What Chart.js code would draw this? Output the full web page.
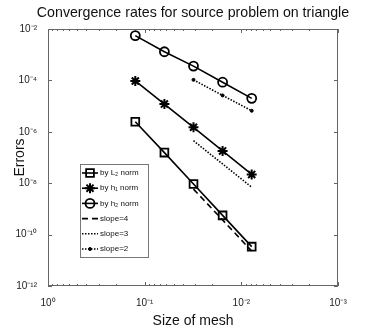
<!DOCTYPE html>
<html>
<head>
<meta charset="utf-8">
<script src="https://cdn.jsdelivr.net/npm/chart.js@4.4.0/dist/chart.umd.min.js"></script>
<style>
  html, body { margin: 0; padding: 0; background: #fff; }
</style>
</head>
<body>
<canvas id="convChart" width="374" height="333"></canvas>
<script>
const meshSizes = [1/8, 1/16, 1/32, 1/64, 1/128];
const errL2 = [2.45e-6, 1.55e-7, 9.3e-9, 5.6e-10, 3.4e-11];
const errH1 = [9.5e-5, 1.2e-5, 1.5e-6, 1.8e-7, 2.2e-8];
const errH2 = [5.5e-3, 1.3e-3, 3.6e-4, 8.5e-5, 2.0e-5];

// reference slope lines
const slopeMesh = [1/32, 1/64, 1/128];
const slope4 = [5.9e-9, 3.7e-10, 2.3e-11];
const slope3 = [4.5e-7, 5.6e-8, 7.0e-9];
const slope2 = [1.05e-4, 2.6e-5, 6.6e-6];

const chartTitle = 'Convergence rates for source problem on triangle';
const seriesLabels = ['by L\u2082 norm', 'by h\u2081 norm', 'by h\u2082 norm', 'slope=4', 'slope=3', 'slope=2'];
const xTickValues = [1, 1e-1, 1e-2, 1e-3];
const yTickValues = [1e-2, 1e-4, 1e-6, 1e-8, 1e-10, 1e-12];

const SUP = { '-': '\u207B', '0': '\u2070', '1': '\u00B9', '2': '\u00B2', '3': '\u00B3', '4': '\u2074',
              '5': '\u2075', '6': '\u2076', '7': '\u2077', '8': '\u2078', '9': '\u2079' };
const pow10Label = v => '10' + String(Math.round(Math.log10(v))).split('').map(c => SUP[c]).join('');

const pts = (xs, ys) => xs.map((x, i) => ({ x, y: ys[i] }));

const FONT = "'Liberation Sans', Arial, sans-serif";

// MATLAB-like box with inward ticks on all four sides, title centred over the axes
const boxTicks = {
  id: 'boxTicks',
  beforeDatasetsDraw(chart) {
    const { ctx, chartArea: a, scales: { x, y } } = chart;
    ctx.save();
    ctx.strokeStyle = '#666';
    ctx.lineWidth = 1;
    ctx.strokeRect(a.left + 0.5, a.top + 0.5, a.right - a.left - 1, a.bottom - a.top - 1);
    ctx.beginPath();
    // x major + minor ticks
    for (let e = 0; e > -3; e--) {
      for (let m = 1; m <= 9; m++) {
        const px = Math.round(x.getPixelForValue(m * Math.pow(10, e - 1))) + 0.5;
        const len = m === 1 ? 4 : 2;
        ctx.moveTo(px, a.bottom); ctx.lineTo(px, a.bottom - len);
        ctx.moveTo(px, a.top); ctx.lineTo(px, a.top + len);
      }
    }
    yTickValues.forEach(v => {
      const py = Math.round(y.getPixelForValue(v)) + 0.5;
      ctx.moveTo(a.left, py); ctx.lineTo(a.left + 4, py);
      ctx.moveTo(a.right, py); ctx.lineTo(a.right - 4, py);
    });
    ctx.stroke();

    ctx.fillStyle = '#111';
    ctx.font = '14.2px ' + FONT;
    ctx.textAlign = 'center';
    ctx.textBaseline = 'middle';
    ctx.fillText(chartTitle, (a.left + a.right) / 2, 13);
    ctx.restore();
  }
};

// legend box drawn inside the axes, lower left
const insideLegend = {
  id: 'insideLegend',
  afterDraw(chart) {
    const { ctx, chartArea: a } = chart;
    const bx = a.left + 32, by = a.top + 135, bw = 68, bh = 93;
    ctx.save();
    ctx.fillStyle = '#fff';
    ctx.fillRect(bx, by, bw, bh);
    ctx.strokeStyle = '#777';
    ctx.lineWidth = 1;
    ctx.strokeRect(bx + 0.5, by + 0.5, bw, bh);
    chart.data.datasets.forEach((ds, i) => {
      const cy = by + 9 + i * 15.2;
      const x0 = bx + 2, x1 = bx + 18;
      ctx.strokeStyle = ds.borderColor;
      ctx.lineWidth = ds.borderWidth;
      ctx.setLineDash(ds.borderDash || []);
      ctx.beginPath();
      ctx.moveTo(x0, cy); ctx.lineTo(x1, cy);
      ctx.stroke();
      ctx.setLineDash([]);
      if (ds.pointRadius > 0) {
        ctx.fillStyle = ds.pointBackgroundColor;
        ctx.strokeStyle = ds.borderColor;
        ctx.lineWidth = ds.pointBorderWidth;
        Chart.helpers.drawPoint(ctx, {
          pointStyle: ds.pointStyle, radius: ds.pointRadius, rotation: 0, borderWidth: ds.pointBorderWidth
        }, (x0 + x1) / 2, cy);
      }
      ctx.fillStyle = '#111';
      ctx.font = '8px ' + FONT;
      ctx.textBaseline = 'middle';
      ctx.fillText(ds.label, x1 + 2, cy);
    });
    ctx.restore();
  }
};

const baseSeries = {
  borderColor: '#000', backgroundColor: 'rgba(0,0,0,0)', pointBackgroundColor: 'rgba(0,0,0,0)',
  borderWidth: 1.6, pointBorderWidth: 1.8, tension: 0
};

new Chart(document.getElementById('convChart'), {
  type: 'line',
  data: {
    datasets: [
      { ...baseSeries, label: seriesLabels[0], data: pts(meshSizes, errL2), pointStyle: 'rect', pointRadius: 5.5 },
      { ...baseSeries, label: seriesLabels[1], data: pts(meshSizes, errH1), pointStyle: 'star', pointRadius: 5, pointBorderWidth: 2 },
      { ...baseSeries, label: seriesLabels[2], data: pts(meshSizes, errH2), pointStyle: 'circle', pointRadius: 4.5 },
      { ...baseSeries, label: seriesLabels[3], data: pts(slopeMesh, slope4), pointRadius: 0, borderDash: [6, 4] },
      { ...baseSeries, label: seriesLabels[4], data: pts(slopeMesh, slope3), pointRadius: 0, borderDash: [1.5, 1.5] },
      { ...baseSeries, label: seriesLabels[5], data: pts(slopeMesh, slope2), pointRadius: 1.5, pointStyle: 'circle',
        pointBackgroundColor: '#000', pointBorderWidth: 1, borderDash: [1.5, 1.5] }
    ]
  },
  options: {
    responsive: false,
    animation: false,
    layout: { padding: { left: 12, right: 36, top: 29, bottom: 3 } },
    plugins: {
      legend: { display: false },
      tooltip: { enabled: false },
      title: { display: false }
    },
    scales: {
      x: {
        type: 'logarithmic', reverse: true, min: 1e-3, max: 1,
        afterBuildTicks: s => { s.ticks = xTickValues.map(v => ({ value: v })); },
        afterFit: s => { s.height = 44; },
        grid: { display: false }, border: { display: false },
        ticks: { callback: v => pow10Label(v), color: '#222', font: { family: FONT, size: 10 }, padding: 3, maxRotation: 0, autoSkip: false },
        title: { display: true, text: 'Size of mesh', color: '#111', font: { family: FONT, size: 14 }, padding: 0 }
      },
      y: {
        type: 'logarithmic', min: 1e-12, max: 1e-2,
        afterBuildTicks: s => { s.ticks = yTickValues.map(v => ({ value: v })); },
        afterFit: s => { s.width = 36; },
        grid: { display: false }, border: { display: false },
        ticks: { callback: v => pow10Label(v), color: '#222', font: { family: FONT, size: 10 }, padding: 3, autoSkip: false },
        title: { display: true, text: 'Errors', color: '#111', font: { family: FONT, size: 14 }, padding: 0 }
      }
    }
  },
  plugins: [boxTicks, insideLegend]
});
</script>
</body>
</html>
